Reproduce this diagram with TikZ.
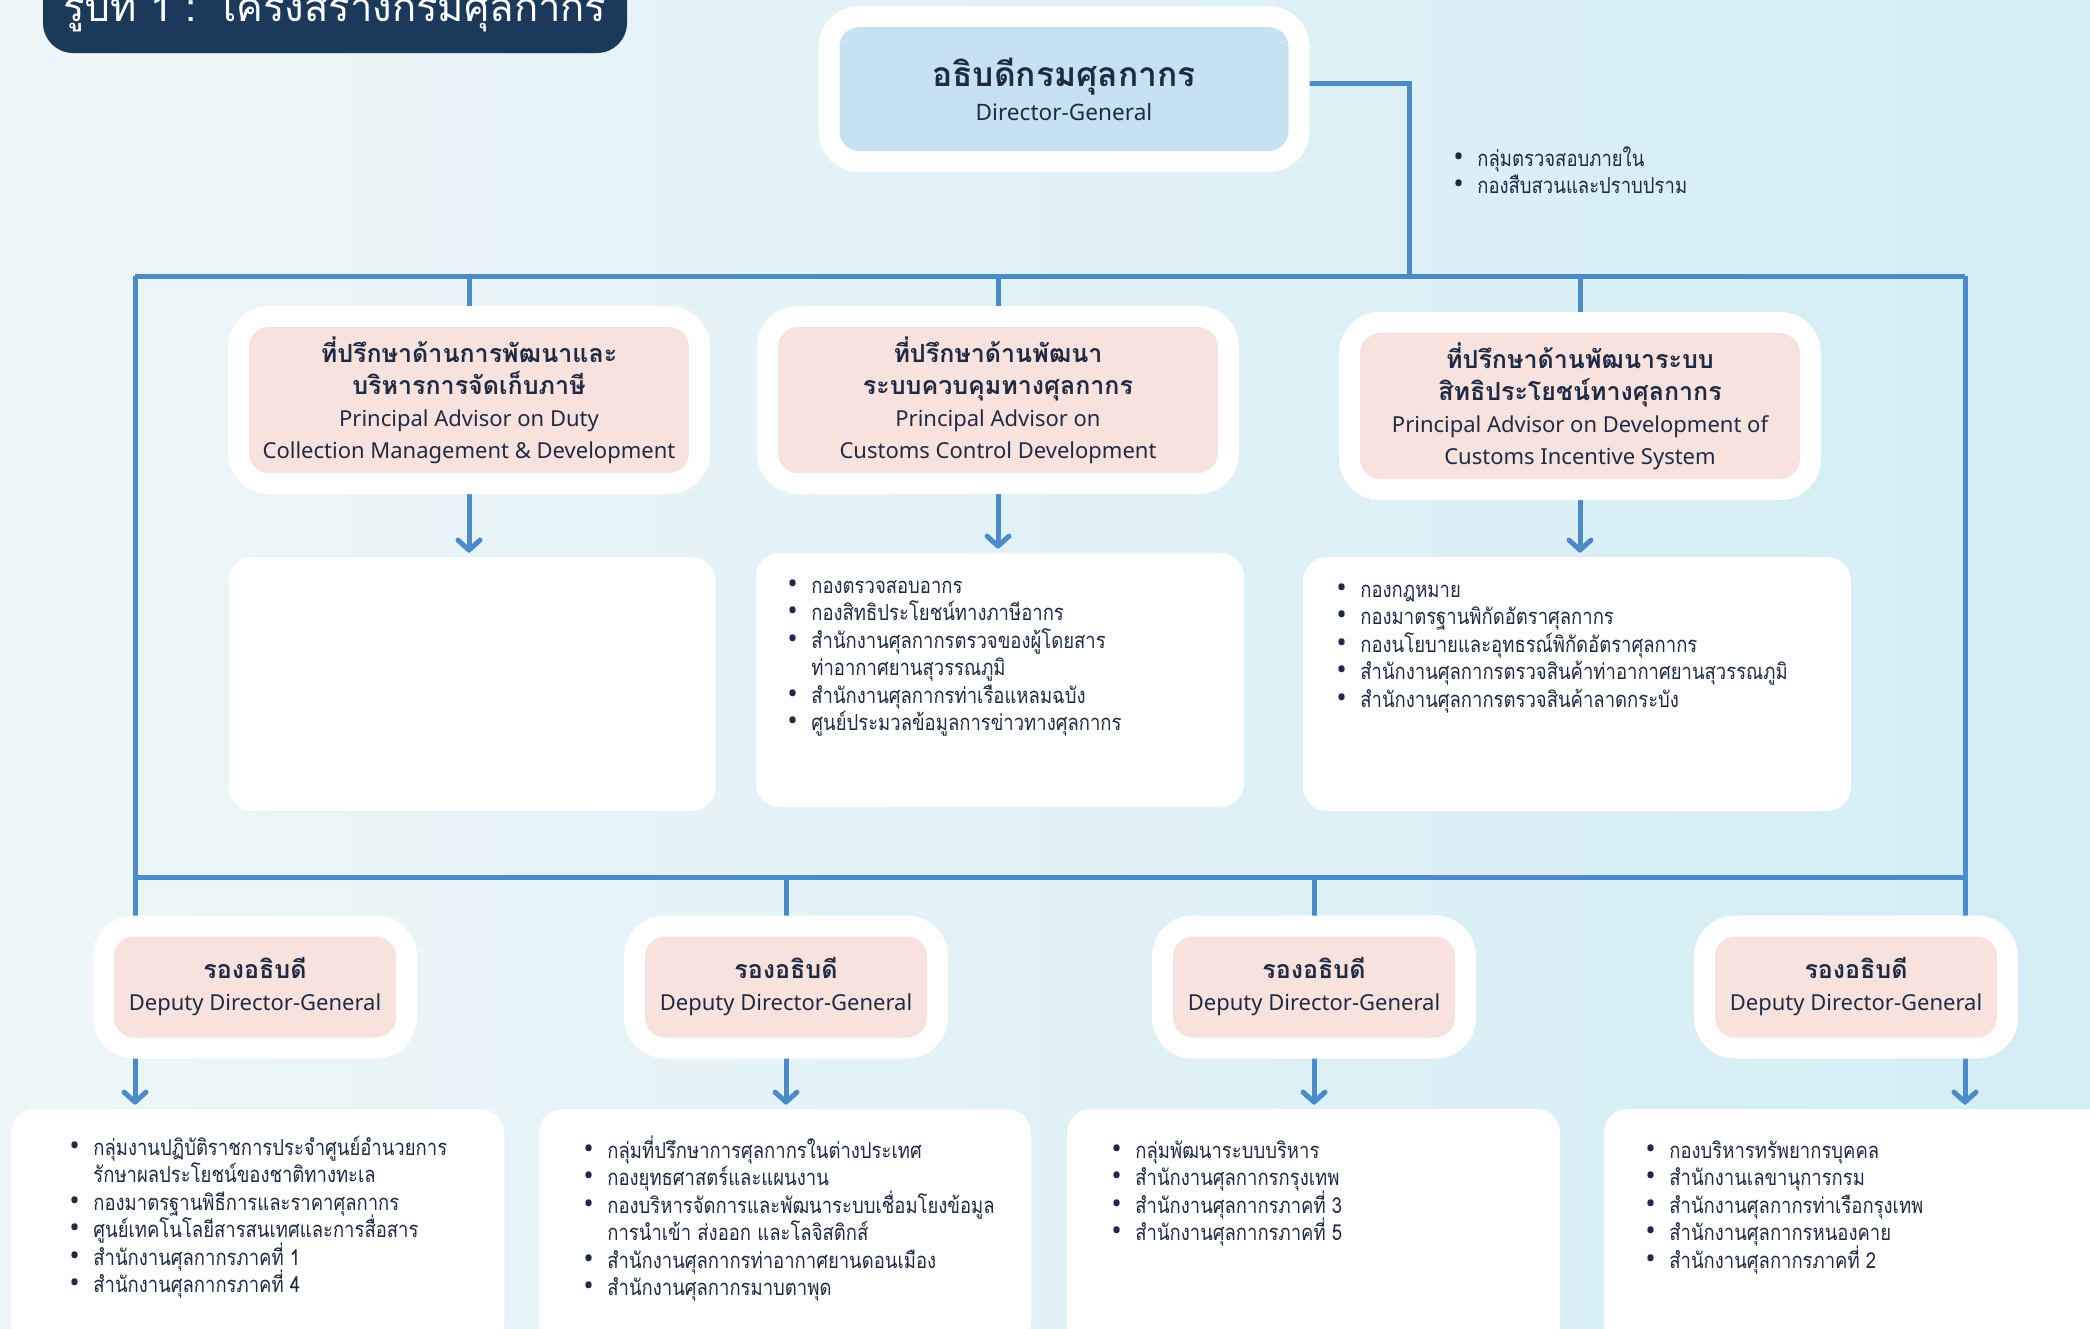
\documentclass[tikz,border=0pt]{standalone}
\usepackage{fontspec}
\setmainfont{Noto Sans}
\newfontfamily\thaifont[Script=Thai]{Loma}
\newfontfamily\thaicond[Script=Thai,FakeStretch=0.84]{Loma}
\usetikzlibrary{arrows.meta,backgrounds}

\definecolor{linkblue}{HTML}{4B8BC9}
\definecolor{dgblue}{HTML}{C6E2F2}
\definecolor{advpink}{HTML}{F8E2DE}
\definecolor{inkblue}{HTML}{1F2B45}
\definecolor{titlenavy}{HTML}{1B3A5B}
\definecolor{bgpale}{HTML}{EEF6F8}
\definecolor{bgcyan}{HTML}{D3EDF5}

\newcommand{\thb}{\thaifont\bfseries}
\newcommand{\advth}{\thb\fontsize{12.5}{16}\selectfont}
\newcommand{\itm}[1]{\hbox{\makebox[12pt][l]{\rmfamily\fontsize{14}{14}\selectfont\textbullet}#1}}
\newcommand{\contline}[1]{\hbox{\hspace*{12pt}#1}}
\newcommand{\blist}[1]{\vtop{\baselineskip=13.75pt\lineskiplimit=-100pt\relax#1}}

\begin{document}
\begin{tikzpicture}
[x=0.5pt,y=-0.5pt,
 conn/.style={draw=linkblue,line width=2.5pt},
 arr/.style={conn,-{Straight Barb[length=5pt,width=11pt,round]},shorten >=2pt},
 framed/.style={rounded corners=10pt,text=inkblue,align=center,inner sep=0pt,
   font=\fontsize{11}{16}\selectfont,
   preaction={draw=white,line width=21pt}},
 dgbox/.style={framed,fill=dgblue,minimum width=224.5pt,minimum height=62pt},
 advbox/.style={framed,fill=advpink,minimum width=220pt,minimum height=73pt},
 depbox/.style={framed,fill=advpink,minimum width=141pt,minimum height=50.5pt},
 listbox/.style={fill=white,rounded corners=12pt,inner sep=0pt},
 listtext/.style={anchor=base west,inner sep=0pt,text=inkblue,
   font=\thaicond\fontsize{11}{13.75}\selectfont}]
\path[use as bounding box] (0,0) rectangle (2090,1329);
\clip (0,0) rectangle (2090,1329);
\begin{scope}[on background layer]
\shade[left color=bgpale,right color=bgcyan] (0,0) rectangle (2090,1329);
\end{scope}

%% title
\node[fill=titlenavy,rounded corners=15pt,minimum width=292pt,minimum height=46.5pt,
  inner sep=0pt] (titlebar) at (335,6.5) {};
\node[anchor=base,text=white,font=\thaifont\fontsize{20}{24}\selectfont]
  (titletext) at (335,21) {รูปที่ 1 : โครงสร้างกรมศุลกากร};

%% director-general
\node[dgbox] (dg) at (1064,89)
  {{\thb\fontsize{16.8}{20}\selectfont อธิบดีกรมศุลกากร}\\[1pt]{\fontsize{11.3}{16}\selectfont Director-General}};

%% advisors
\foreach \nodename/\x/\y/\thone/\thtwo/\enone/\entwo in {
  a1/469/400/ที่ปรึกษาด้านการพัฒนาและ/บริหารการจัดเก็บภาษี/Principal Advisor on Duty/Collection Management \& Development,
  a2/998/400/ที่ปรึกษาด้านพัฒนา/ระบบควบคุมทางศุลกากร/Principal Advisor on/Customs Control Development,
  a3/1580/406/ที่ปรึกษาด้านพัฒนาระบบ/สิทธิประโยชน์ทางศุลกากร/Principal Advisor on Development of/Customs Incentive System} {
  \node[advbox] (\nodename) at (\x,\y)
    {{\advth \thone}\\{\advth \thtwo}\\\enone\\\entwo};
}

%% deputies
\foreach \nodename/\x in {d1/255, d2/786, d3/1314, d4/1856} {
  \node[depbox] (\nodename) at (\x,987) {{\advth รองอธิบดี}\\Deputy Director-General};
}

%% white boxes for the units
\foreach \nodename/\x/\y/\w/\h in {c1/472/684/243.5/127, c2/1000/680/244/127,
  c3/1577/684/274/127, b1/257.5/1229/246.5/120, b2/785/1229/246/120,
  b3/1313.5/1229/246.5/120, b4/1857/1229/253/120} {
  \node[listbox,minimum width=\w pt,minimum height=\h pt] (\nodename) at (\x,\y) {};
}

%% unit lists
\node[listtext] (dglist) at (1453,166)
  {\blist{\itm{กลุ่มตรวจสอบภายใน}\itm{กองสืบสวนและปราบปราม}}};
\node[listtext] (c2list) at (787,593)
  {\blist{\itm{กองตรวจสอบอากร}\itm{กองสิทธิประโยชน์ทางภาษีอากร}
  \itm{สำนักงานศุลกากรตรวจของผู้โดยสาร}\contline{ท่าอากาศยานสุวรรณภูมิ}
  \itm{สำนักงานศุลกากรท่าเรือแหลมฉบัง}\itm{ศูนย์ประมวลข้อมูลการข่าวทางศุลกากร}}};
\node[listtext] (c3list) at (1336,597)
  {\blist{\itm{กองกฎหมาย}\itm{กองมาตรฐานพิกัดอัตราศุลกากร}
  \itm{กองนโยบายและอุทธรณ์พิกัดอัตราศุลกากร}
  \itm{สำนักงานศุลกากรตรวจสินค้าท่าอากาศยานสุวรรณภูมิ}
  \itm{สำนักงานศุลกากรตรวจสินค้าลาดกระบัง}}};
\node[listtext] (b1list) at (69,1155)
  {\blist{\itm{กลุ่มงานปฏิบัติราชการประจำศูนย์อำนวยการ}\contline{รักษาผลประโยชน์ของชาติทางทะเล}
  \itm{กองมาตรฐานพิธีการและราคาศุลกากร}\itm{ศูนย์เทคโนโลยีสารสนเทศและการสื่อสาร}
  \itm{สำนักงานศุลกากรภาคที่ 1}\itm{สำนักงานศุลกากรภาคที่ 4}}};
\node[listtext] (b2list) at (583,1158)
  {\blist{\itm{กลุ่มที่ปรึกษาการศุลกากรในต่างประเทศ}\itm{กองยุทธศาสตร์และแผนงาน}
  \itm{กองบริหารจัดการและพัฒนาระบบเชื่อมโยงข้อมูล}\contline{การนำเข้า ส่งออก และโลจิสติกส์}
  \itm{สำนักงานศุลกากรท่าอากาศยานดอนเมือง}\itm{สำนักงานศุลกากรมาบตาพุด}}};
\node[listtext] (b3list) at (1111,1158)
  {\blist{\itm{กลุ่มพัฒนาระบบบริหาร}\itm{สำนักงานศุลกากรกรุงเทพ}
  \itm{สำนักงานศุลกากรภาคที่ 3}\itm{สำนักงานศุลกากรภาคที่ 5}}};
\node[listtext] (b4list) at (1645,1158)
  {\blist{\itm{กองบริหารทรัพยากรบุคคล}\itm{สำนักงานเลขานุการกรม}
  \itm{สำนักงานศุลกากรท่าเรือกรุงเทพ}\itm{สำนักงานศุลกากรหนองคาย}
  \itm{สำนักงานศุลกากรภาคที่ 2}}};

%% connectors
\coordinate (tl) at (135,276);
\coordinate (tr) at (1965,276);
\coordinate (bl) at (135,877);
\coordinate (br) at (1965,877);
\coordinate (dgjoin) at (1409,276);
\begin{scope}[on background layer]
\draw[conn] ([yshift=3pt]dg.east) -| (dgjoin);
\draw[conn] (tl) -- (tr);
\draw[conn] (bl) -- (br);
\foreach \advnode/\listnode in {a1/c1, a2/c2, a3/c3} {
  \draw[conn] (\advnode |- tl) -- (\advnode);
  \draw[arr] (\advnode) -- (\advnode |- \listnode.north);
}
\draw[arr] (tl) -- (tl |- b1.north);
\draw[arr] (tr) -- (tr |- b4.north);
\foreach \depnode/\listnode in {d2/b2, d3/b3} {
  \draw[arr] (\depnode |- bl) -- (\depnode |- \listnode.north);
}
\end{scope}
\end{tikzpicture}
\end{document}
